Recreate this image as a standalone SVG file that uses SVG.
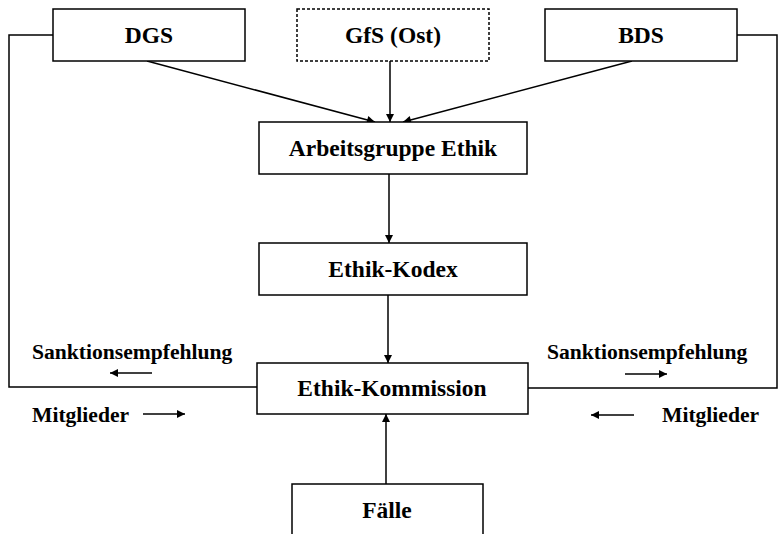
<svg xmlns="http://www.w3.org/2000/svg" width="779" height="534" viewBox="0 0 779 534">
<defs>
<marker id="ah" viewBox="0 0 10 10" refX="10" refY="5" markerWidth="10" markerHeight="8" markerUnits="userSpaceOnUse" orient="auto">
<path d="M0,0 L10,5 L0,10 z" fill="#000"/>
</marker>
</defs>
<style>
.box{fill:#fff;stroke:#000;stroke-width:1.5}
.dash{stroke-dasharray:3 2}
.t{font-family:"Liberation Serif","Times New Roman",serif;font-weight:bold;font-size:23.5px;text-anchor:middle;fill:#000}
.l{font-family:"Liberation Serif","Times New Roman",serif;font-weight:bold;font-size:21.6px;fill:#000}
.c{fill:none;stroke:#000;stroke-width:1.5}
.a{fill:none;stroke:#000;stroke-width:1.5;marker-end:url(#ah)}
</style>
<rect width="779" height="534" fill="#fff"/>
<g id="connectors">
<path class="c" d="M53,35 H9 V387 H257"/>
<path class="c" d="M737,35 H777 V388 H528"/>
<line class="a" x1="147" y1="61" x2="375" y2="122"/>
<line class="a" x1="390" y1="61" x2="390" y2="122"/>
<line class="a" x1="632" y1="61" x2="403" y2="122"/>
<line class="a" x1="389" y1="174" x2="389" y2="243"/>
<line class="a" x1="388" y1="295" x2="388" y2="363"/>
<line class="a" x1="386" y1="484" x2="386" y2="414"/>
<line class="a" x1="152" y1="373" x2="110" y2="373"/>
<line class="a" x1="143" y1="414" x2="185" y2="414"/>
<line class="a" x1="625" y1="374" x2="667" y2="374"/>
<line class="a" x1="634" y1="415" x2="591" y2="415"/>
</g>
<g id="dgs"><rect class="box" x="53" y="9" width="192" height="52"/><text class="t" x="149" y="43">DGS</text></g>
<g id="gfs"><rect class="box dash" x="297" y="9" width="192" height="52"/><text class="t" x="393" y="43">GfS (Ost)</text></g>
<g id="bds"><rect class="box" x="545" y="9" width="192" height="52"/><text class="t" x="641" y="43">BDS</text></g>
<g id="arbeitsgruppe"><rect class="box" x="259" y="122" width="268" height="52"/><text class="t" x="393" y="156">Arbeitsgruppe Ethik</text></g>
<g id="kodex"><rect class="box" x="259" y="243" width="268" height="52"/><text class="t" x="393" y="277">Ethik-Kodex</text></g>
<g id="kommission"><rect class="box" x="257" y="363" width="271" height="51"/><text class="t" x="392" y="396">Ethik-Kommission</text></g>
<g id="faelle"><path class="c" d="M292,534 V484 H483 V534"/><text class="t" x="387" y="518">Fälle</text></g>
<g id="labels">
<text class="l" x="32" y="359">Sanktionsempfehlung</text>
<text class="l" x="32" y="422">Mitglieder</text>
<text class="l" x="547" y="359">Sanktionsempfehlung</text>
<text class="l" x="662" y="422">Mitglieder</text>
</g>
</svg>
